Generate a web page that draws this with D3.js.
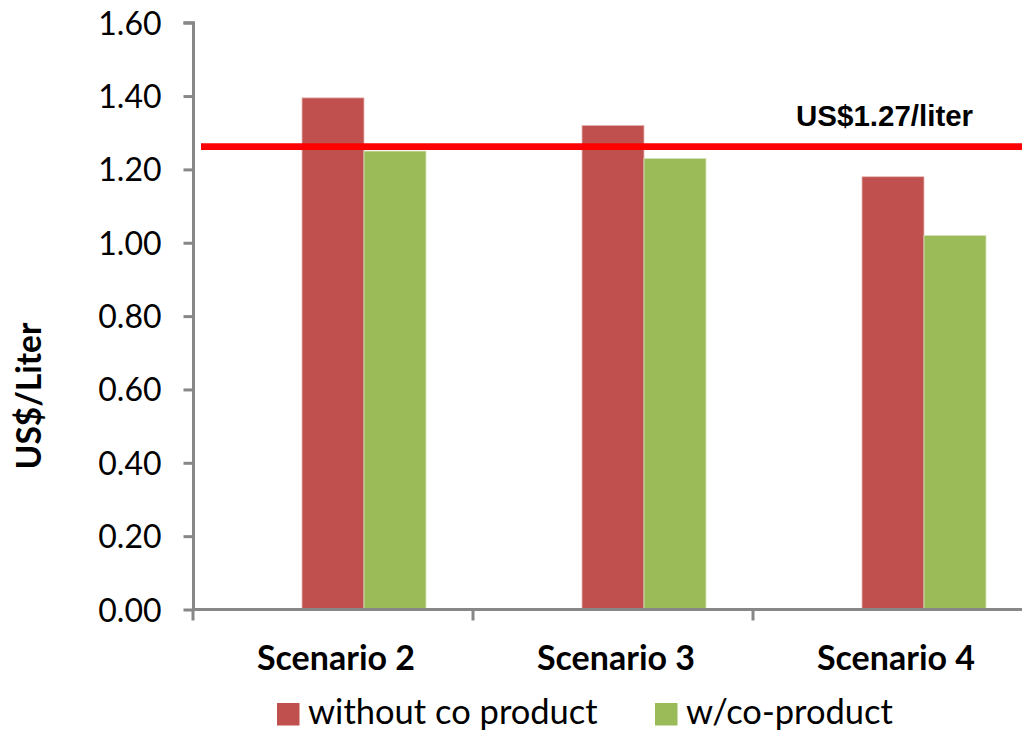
<!DOCTYPE html>
<html>
<head>
<meta charset="utf-8">
<script src="https://cdn.jsdelivr.net/npm/d3@7"></script>
<style>
  html, body { margin: 0; padding: 0; background: #fff; }
  svg { display: block; }
</style>
</head>
<body>
<svg id="chart" width="1022" height="731"></svg>
<script>
// ---- data ----
const categories = ["Scenario 2", "Scenario 3", "Scenario 4"];
const seriesNames = ["without co product", "w/co-product"];
const withoutCoProduct = [1.395, 1.32, 1.18];
const withCoProduct = [1.25, 1.23, 1.02];
const yTicks = [0, 0.2, 0.4, 0.6, 0.8, 1.0, 1.2, 1.4, 1.6];
const refValue = 1.262;
const refLabel = "US$1.27/liter";
const yTitle = "US$/Liter";

const seriesValues = [withoutCoProduct, withCoProduct];
const colors = ["#C0504D", "#9BBB59"];
const strokes = ["#E6B9B8", "#D7E4BD"];

const svg = d3.select("#chart");
const axisColor = "#878787";

// ---- scales ----
const x0 = d3.scaleBand().domain(categories).range([193, 1033]).paddingInner(0).paddingOuter(0);
// slot 0 is an empty slot in the original chart's layout (bars sit right of centre)
const slots = ["_empty", ...seriesNames];
const x1 = d3.scaleBand().domain(slots).range([0, x0.bandwidth()]).paddingInner(0).paddingOuter(0.758);
const y = d3.scaleLinear().domain([0, 1.6]).range([609.5, 22.7]);

// ---- bars ----
const rows = categories.map((c, i) => ({ cat: c, vals: seriesNames.map((s, j) => ({ s, j, v: seriesValues[j][i] })) }));
const g = svg.append("g");
g.selectAll("g.cat").data(rows).join("g")
  .attr("transform", d => `translate(${x0(d.cat)},0)`)
  .selectAll("rect").data(d => d.vals).join("rect")
  .attr("x", d => x1(d.s))
  .attr("width", x1.bandwidth())
  .attr("y", d => y(d.v))
  .attr("height", d => y(0) - y(d.v))
  .attr("fill", d => colors[d.j])
  .attr("stroke", d => strokes[d.j])
  .attr("stroke-width", 0.8);

// ---- y axis ----
const yAxis = d3.axisLeft(y).tickValues(yTicks).tickFormat(d3.format(".2f")).tickSize(10).tickPadding(22);
const ya = svg.append("g").attr("transform", "translate(193.5,0)").call(yAxis);
ya.select(".domain").attr("stroke", axisColor).attr("stroke-width", 3).attr("d", `M-10,${y(1.6)}H0V${y(0)}`);
ya.selectAll(".tick line").attr("stroke", axisColor).attr("stroke-width", 3);
ya.selectAll(".tick text").attr("fill", "#000").style("font-family", "Lato, 'Open Sans', sans-serif").style("font-size", "32px").attr("dy", "0.36em");

// ---- x axis ----
const xa = svg.append("g").attr("transform", `translate(0,${y(0)})`);
xa.append("line").attr("x1", 193).attr("x2", 1022).attr("stroke", axisColor).attr("stroke-width", 3);
const bounds = categories.map(c => x0(c));
xa.selectAll("line.tk").data(bounds).join("line").attr("class", "tk")
  .attr("x1", d => d).attr("x2", d => d).attr("y1", 0).attr("y2", 11)
  .attr("stroke", axisColor).attr("stroke-width", 3);
xa.selectAll("text").data(categories).join("text")
  .attr("x", d => x0(d) + x0.bandwidth() / 2 + 3)
  .attr("y", 60.5)
  .attr("text-anchor", "middle")
  .style("font-family", "Lato, 'Open Sans', sans-serif").style("font-weight", "bold").style("font-size", "34px")
  .text(d => d);

// ---- y title ----
svg.append("text")
  .attr("transform", "translate(41,396) rotate(-90)")
  .attr("text-anchor", "middle")
  .style("font-family", "Lato, 'Open Sans', sans-serif").style("font-weight", "bold").style("font-size", "33.5px")
  .text(yTitle);

// ---- reference line ----
svg.append("line").attr("x1", 201).attr("x2", 1022).attr("y1", y(refValue)).attr("y2", y(refValue))
  .attr("stroke", "#FF0000").attr("stroke-width", 6.7);
svg.append("text").attr("x", 796).attr("y", 125.5)
  .style("font-family", "'Liberation Sans', Arial, sans-serif").style("font-weight", "bold").style("font-size", "29.5px")
  .text(refLabel);

// ---- legend ----
const legendX = [277, 655];
const lg = svg.append("g");
const li = lg.selectAll("g").data(seriesNames).join("g").attr("transform", (d, i) => `translate(${legendX[i]},703)`);
li.append("rect").attr("width", 22.5).attr("height", 22.5).attr("fill", (d, i) => colors[i]);
li.append("text").attr("x", 31).attr("y", 21)
  .style("font-family", "Lato, 'Open Sans', sans-serif").style("font-size", "34.5px")
  .text(d => d);
</script>
</body>
</html>
